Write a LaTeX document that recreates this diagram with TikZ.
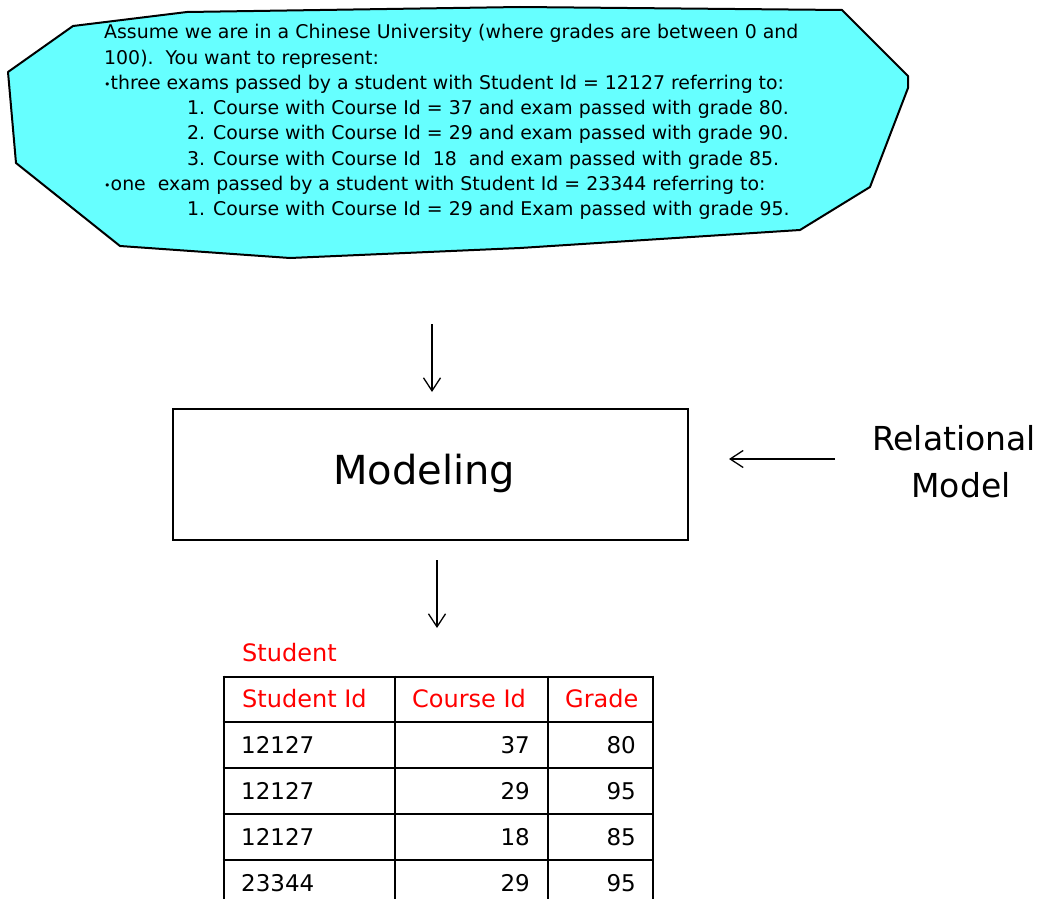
\documentclass[tikz,border=0pt]{standalone}
\usepackage{fontspec}
\setmainfont{DejaVu Sans}
\usetikzlibrary{arrows.meta}
\definecolor{cloudcyan}{RGB}{102,255,255}
\definecolor{hdrred}{RGB}{255,0,0}
\newcommand{\mybul}{\raisebox{0.1ex}{\fontsize{11}{11}\selectfont•}}
\begin{document}
\begin{tikzpicture}[x=1pt,y=-1pt,
  conn/.style={draw=black,line width=1.3pt,-{Straight Barb[length=13pt,width=17pt,line width=1.3pt]}},
  ctext/.style={anchor=base west,inner sep=0pt,font=\fontsize{18.9}{22}\selectfont},
  cell/.style={inner sep=0pt,font=\fontsize{23}{26}\selectfont},
  hdr/.style={inner sep=0pt,font=\fontsize{24}{28}\selectfont,text=hdrred},
  grid/.style={draw=black,line width=2.6pt},
  big/.style={inner sep=0pt,font=\fontsize{40}{46}\selectfont},
  side/.style={inner sep=0pt,font=\fontsize{33}{38}\selectfont}]
\useasboundingbox (0,0) rectangle (1042,899);
% cloud
\draw[fill=cloudcyan,line width=2pt,line join=round]
  (73,26) -- (187,12) -- (520,7) -- (842,10) -- (908,76) -- (908,88) -- (870,187)
  -- (800,230) -- (520,248) -- (290,258) -- (120,246) -- (16,163) -- (8,72) -- cycle;
\node[ctext] (l1) at (104,39) {Assume we are in a Chinese University (where grades are between 0 and};
\node[ctext] (l2) at (104,64.2) {100).\ \ You want to represent:};
\node[ctext] (l3) at (104,89.4) {\mybul three exams passed by a student with Student Id = 12127 referring to:};
\node[ctext] (l4) at (187,114.6) {1. Course with Course Id = 37 and exam passed with grade 80.};
\node[ctext] (l5) at (187,139.8) {2. Course with Course Id = 29 and exam passed with grade 90.};
\node[ctext] (l6) at (187,165) {3. Course with Course Id\ \ 18\ \ and exam passed with grade 85.};
\node[ctext] (l7) at (104,190.2) {\mybul one\ \ exam passed by a student with Student Id = 23344 referring to:};
\node[ctext] (l8) at (187,215.4) {1. Course with Course Id = 29 and Exam passed with grade 95.};
% modeling box
\node[draw,line width=1.7pt,minimum width=515pt,minimum height=131pt,inner sep=0pt] (box) at (430.5,474.5) {};
\node[big,anchor=base] (modtxt) at (424,484) {Modeling};
\node[side,anchor=base] (rel1) at (954,450) {Relational};
\node[side,anchor=base] (rel2) at (961,497) {Model};
% arrows
\coordinate (a1s) at (432,324);
\coordinate (a1e) at (432,392);
\coordinate (a2s) at (437,560);
\coordinate (a2e) at (437,628);
\coordinate (a3s) at (835,459);
\coordinate (a3e) at (729,459);
\draw[conn] (a1s) -- (a1e);
\draw[conn] (a2s) -- (a2e);
\draw[conn] (a3s) -- (a3e);
% table
\node[hdr,anchor=base west] (ttl) at (242,661) {Student};
\foreach \yy in {677,722,768,814,860} \draw[grid] (222.7,\yy) -- (654.3,\yy);
\foreach \xx in {224,395,548,653} \draw[grid] (\xx,675.7) -- (\xx,905);
\node[hdr,anchor=base west] (h1) at (242,707) {Student Id};
\node[hdr,anchor=base west] (h2) at (412,707) {Course Id};
\node[hdr,anchor=base west] (h3) at (565,707) {Grade};
\node[cell,anchor=base west] (r1a) at (241,753) {12127};
\node[cell,anchor=base east] (r1b) at (530,753) {37};
\node[cell,anchor=base east] (r1c) at (636,753) {80};
\node[cell,anchor=base west] (r2a) at (241,799) {12127};
\node[cell,anchor=base east] (r2b) at (530,799) {29};
\node[cell,anchor=base east] (r2c) at (636,799) {95};
\node[cell,anchor=base west] (r3a) at (241,845) {12127};
\node[cell,anchor=base east] (r3b) at (530,845) {18};
\node[cell,anchor=base east] (r3c) at (636,845) {85};
\node[cell,anchor=base west] (r4a) at (241,891) {23344};
\node[cell,anchor=base east] (r4b) at (530,891) {29};
\node[cell,anchor=base east] (r4c) at (636,891) {95};
\end{tikzpicture}
\end{document}
